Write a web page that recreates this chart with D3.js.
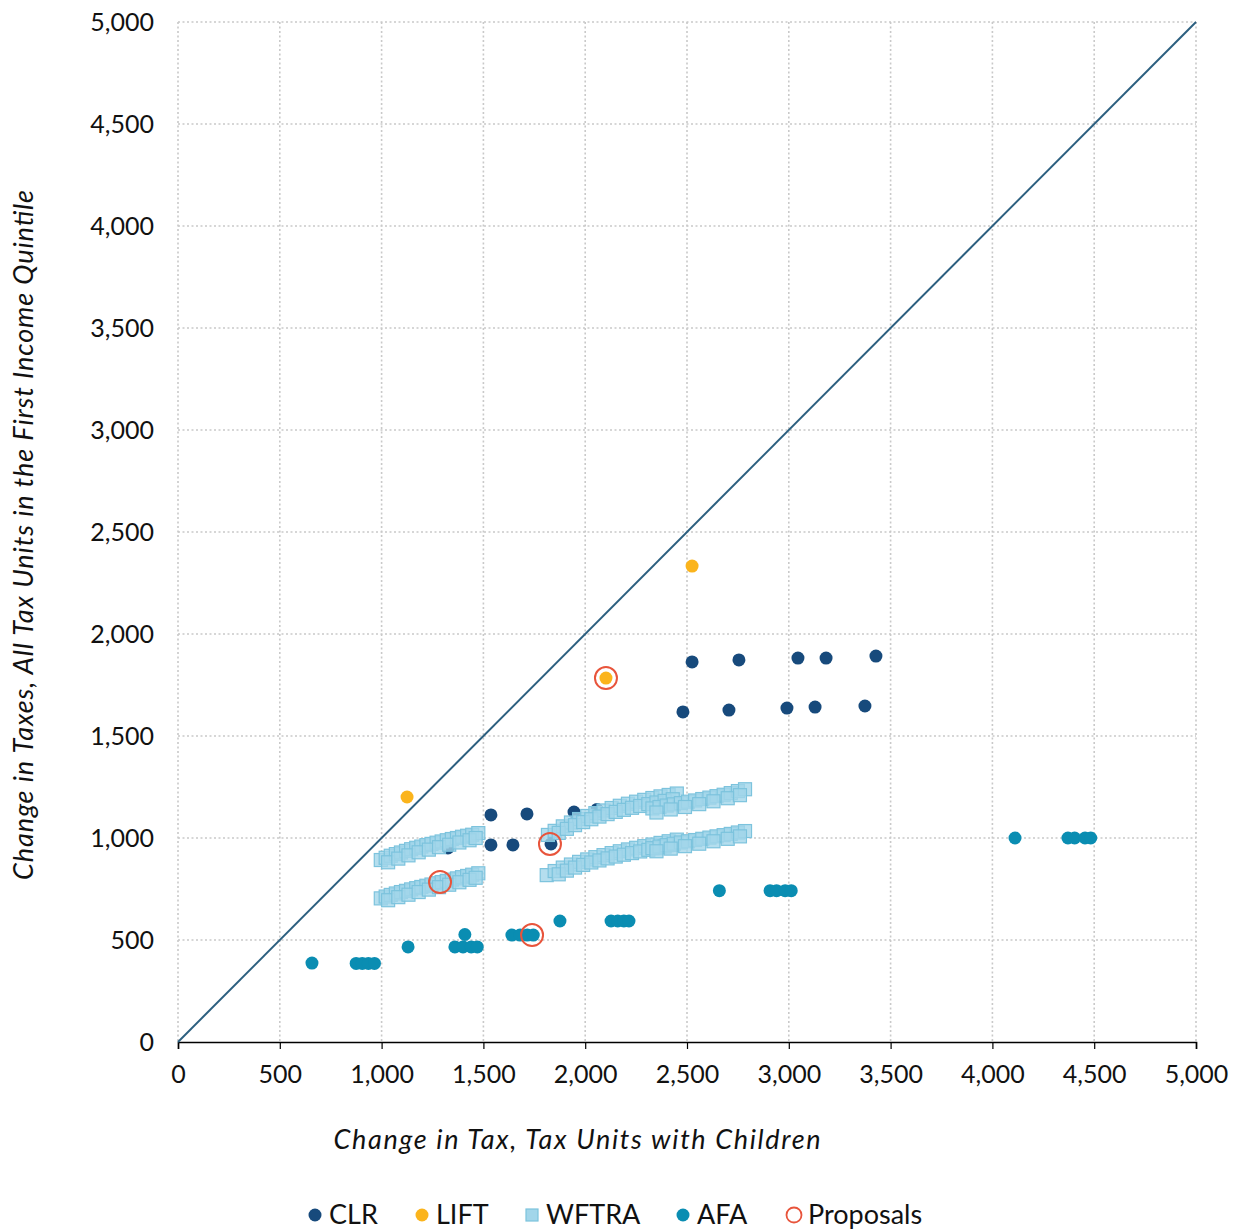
<!DOCTYPE html>
<html>
<head>
<meta charset="utf-8">
<script src="https://cdn.jsdelivr.net/npm/d3@7"></script>
<style>
  html, body { margin: 0; padding: 0; background: #fff; }
  svg { display: block; font-family: Lato, "Open Sans", sans-serif; }
</style>
</head>
<body>
<svg id="chart" width="1241" height="1230"></svg>
<script>
// ---- Data ----
const xTicks = [0, 500, 1000, 1500, 2000, 2500, 3000, 3500, 4000, 4500, 5000];
const yTicks = [0, 500, 1000, 1500, 2000, 2500, 3000, 3500, 4000, 4500, 5000];

const clrX = [1326, 1537, 1537, 1645, 1714, 1832, 1945, 2058, 2480, 2525, 2706, 2755, 2991, 3045, 3129, 3183, 3374, 3428];
const clrY = [951, 1113, 966, 966, 1118, 971, 1127, 1140, 1618, 1863, 1627, 1873, 1637, 1882, 1642, 1882, 1647, 1892];

const liftX = [1125, 2102, 2525];
const liftY = [1201, 1784, 2333];

// WFTRA: bands of overlapping squares
const wftraX = [
  996, 1020, 1045, 1070, 1095, 1120, 1145, 1170, 1195, 1220, 1245, 1270, 1295, 1320, 1345, 1370, 1395, 1420, 1445, 1475,
  1032, 1082, 1132, 1182, 1232, 1282, 1332, 1382, 1432, 1462,
  996, 1020, 1045, 1070, 1095, 1120, 1145, 1170, 1195, 1220, 1245, 1270, 1295, 1320, 1345, 1370, 1395, 1420, 1445, 1475,
  1032, 1082, 1132, 1182, 1232, 1282, 1332, 1382, 1432, 1462,
  1817, 1850, 1890, 1930, 1970, 2010, 2050, 2090, 2130, 2170, 2210, 2250, 2290, 2330, 2370, 2410, 2450,
  1870, 1910, 1950, 1990, 2030, 2070, 2110, 2150, 2190, 2230, 2270, 2310, 2350, 2390, 2430,
  2330, 2365, 2400, 2435, 2470, 2505, 2540, 2575, 2610, 2645, 2680, 2715, 2750, 2785,
  2350, 2420, 2490, 2560, 2630, 2700, 2760,
  1811, 1850, 1890, 1930, 1970, 2010, 2050, 2090, 2130, 2170, 2210, 2250, 2290, 2330, 2370, 2410, 2450,
  1870, 1910, 1950, 1990, 2030, 2070, 2110, 2150, 2190, 2230, 2270, 2310, 2350, 2390, 2430,
  2330, 2365, 2400, 2435, 2470, 2505, 2540, 2575, 2610, 2645, 2680, 2715, 2750, 2785,
  2350, 2420, 2490, 2560, 2630, 2700, 2760
];
const wftraY = [
  892, 903, 913, 921, 929, 937, 945, 952, 958, 965, 971, 977, 983, 989, 995, 1000, 1006, 1011, 1016, 1024,
  881, 899, 915, 930, 943, 955, 967, 978, 989, 1000,
  704, 713, 721, 728, 735, 741, 748, 754, 760, 766, 772, 778, 784, 790, 796, 802, 808, 814, 820, 827,
  695, 710, 722, 735, 747, 759, 771, 783, 795, 805,
  1015, 1035, 1057, 1076, 1093, 1108, 1122, 1135, 1147, 1158, 1168, 1178, 1187, 1196, 1204, 1211, 1218,
  1025, 1045, 1063, 1078, 1092, 1105, 1117, 1128, 1138, 1148, 1157, 1166, 1174, 1182, 1190,
  1145, 1152, 1159, 1165, 1171, 1178, 1184, 1191, 1198, 1205, 1212, 1220, 1230, 1239,
  1125, 1140, 1152, 1166, 1180, 1195, 1210,
  818, 838, 855, 870, 883, 895, 906, 916, 926, 935, 944, 952, 960, 968, 976, 984, 992,
  822, 840, 855, 868, 880, 890, 900, 909, 918, 926, 934, 942, 950, 958, 966,
  950, 958, 965, 972, 978, 984, 990, 996, 1002, 1008, 1014, 1020, 1027, 1034,
  935, 948, 960, 972, 984, 996, 1008
];

const afaX = [658, 875, 905, 935, 965, 1130, 1360, 1400, 1440, 1470, 1409, 1640, 1680, 1715, 1745, 1876, 2127, 2160, 2190, 2215, 2659, 2908, 2940, 2982, 3012, 4111, 4371, 4404, 4455, 4483];
const afaY = [387, 385, 385, 385, 385, 466, 466, 466, 466, 466, 527, 524, 524, 524, 524, 593, 593, 593, 593, 593, 742, 742, 742, 742, 742, 1000, 1000, 1000, 1000, 1000];

const propX = [1287, 1827, 2102, 1739];
const propY = [784, 971, 1784, 524];

const legendLabels = ["CLR", "LIFT", "WFTRA", "AFA", "Proposals"];
const colors = { CLR: "#174a7c", LIFT: "#fbb41c", WFTRA: "#a2d6ea", AFA: "#0a8db2", Proposals: "#e8543b" };

(function () {
// ---- Layout ----
const svg = d3.select("#chart");
const pLeft = 178, pRight = 1196, pTop = 22, pBottom = 1042;
const x = d3.scaleLinear().domain([0, 5000]).range([pLeft, pRight]);
const y = d3.scaleLinear().domain([0, 5000]).range([pBottom, pTop]);
const fmt = d3.format(",");

// gridlines
const grid = svg.append("g").attr("stroke", "#c9c9c9").attr("stroke-width", 1.6).attr("stroke-dasharray", "2 2.5");
grid.selectAll("line.v").data(xTicks).join("line").attr("class", "v")
  .attr("x1", d => x(d)).attr("x2", d => x(d)).attr("y1", pTop).attr("y2", pBottom);
grid.selectAll("line.h").data(yTicks.filter(d => d > 0)).join("line").attr("class", "h")
  .attr("x1", pLeft).attr("x2", pRight).attr("y1", d => y(d)).attr("y2", d => y(d));

// x axis
const xAxis = svg.append("g").attr("transform", `translate(0,${pBottom})`)
  .call(d3.axisBottom(x).tickValues(xTicks).tickFormat(fmt).tickSize(7).tickPadding(16));
xAxis.select(".domain").attr("stroke", "#000").attr("stroke-width", 1.6);
xAxis.selectAll(".tick line").attr("stroke", "#000").attr("stroke-width", 1.2);
xAxis.selectAll("text").attr("font-size", 25).attr("fill", "#111").attr("font-family", "Lato, sans-serif");

// y axis (labels only)
const yAxis = svg.append("g").attr("transform", `translate(${pLeft},0)`)
  .call(d3.axisLeft(y).tickValues(yTicks).tickFormat(fmt).tickSize(0).tickPadding(24));
yAxis.select(".domain").remove();
yAxis.selectAll("text").attr("font-size", 25).attr("fill", "#111").attr("font-family", "Lato, sans-serif");

// diagonal
svg.append("line")
  .attr("x1", x(0)).attr("y1", y(0)).attr("x2", x(5000)).attr("y2", y(5000))
  .attr("stroke", "#2c5f7f").attr("stroke-width", 2);

const R = 6.5;
// CLR
svg.append("g").selectAll("circle").data(d3.zip(clrX, clrY)).join("circle")
  .attr("cx", d => x(d[0])).attr("cy", d => y(d[1])).attr("r", R).attr("fill", colors.CLR);
// LIFT
svg.append("g").selectAll("circle").data(d3.zip(liftX, liftY)).join("circle")
  .attr("cx", d => x(d[0])).attr("cy", d => y(d[1])).attr("r", R).attr("fill", colors.LIFT);
// WFTRA
const S = 13;
svg.append("g").selectAll("rect").data(d3.zip(wftraX, wftraY)).join("rect")
  .attr("x", d => x(d[0]) - S / 2).attr("y", d => y(d[1]) - S / 2)
  .attr("width", S).attr("height", S)
  .attr("fill", colors.WFTRA).attr("fill-opacity", 0.8)
  .attr("stroke", "#7cc3dd").attr("stroke-width", 1.2);
// AFA
svg.append("g").selectAll("circle").data(d3.zip(afaX, afaY)).join("circle")
  .attr("cx", d => x(d[0])).attr("cy", d => y(d[1])).attr("r", R).attr("fill", colors.AFA);
// Proposals
svg.append("g").selectAll("circle").data(d3.zip(propX, propY)).join("circle")
  .attr("cx", d => x(d[0])).attr("cy", d => y(d[1])).attr("r", 11)
  .attr("fill", "none").attr("stroke", colors.Proposals).attr("stroke-width", 2);

// axis titles
svg.append("text").attr("x", 577).attr("y", 1149).attr("text-anchor", "middle")
  .attr("font-size", 27).attr("font-style", "italic").attr("fill", "#111")
  .attr("textLength", 487).attr("lengthAdjust", "spacing")
  .text("Change in Tax, Tax Units with Children");
svg.append("text").attr("transform", `translate(33,535) rotate(-90)`)
  .attr("text-anchor", "middle").attr("font-size", 27).attr("font-style", "italic").attr("fill", "#111")
  .attr("textLength", 690).attr("lengthAdjust", "spacing")
  .text("Change in Taxes, All Tax Units in the First Income Quintile");

// legend
const legendX = [315, 422, 532, 683, 794];
const lg = svg.append("g").attr("transform", "translate(0,1215)");
legendLabels.forEach((name, i) => {
  const g = lg.append("g").attr("transform", `translate(${legendX[i]},0)`);
  if (name === "WFTRA") {
    g.append("rect").attr("x", -6).attr("y", -6).attr("width", 12).attr("height", 12)
      .attr("fill", colors.WFTRA).attr("stroke", "#7cc3dd").attr("stroke-width", 1.2);
  } else if (name === "Proposals") {
    g.append("circle").attr("r", 7.5).attr("fill", "none").attr("stroke", colors.Proposals).attr("stroke-width", 1.8);
  } else {
    g.append("circle").attr("r", 6.5).attr("fill", colors[name]);
  }
  g.append("text").attr("x", 14).attr("y", 9).attr("font-size", 27).attr("fill", "#111").text(name);
});
})();
</script>
</body>
</html>
